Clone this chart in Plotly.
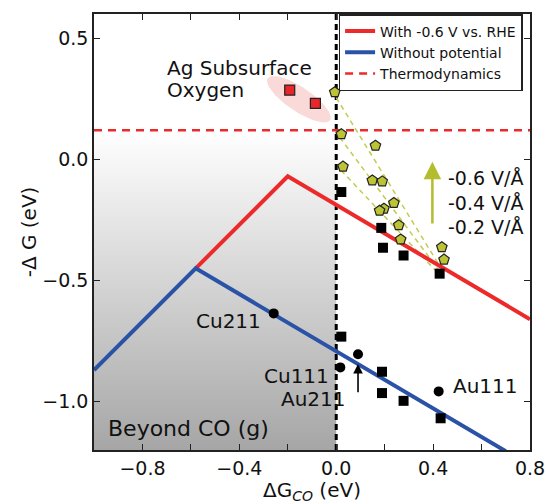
import numpy as np
import plotly.graph_objects as go

FONT = "DejaVu Sans"

# ---- axis ranges / ticks ----
X_RANGE = [-1.0, 0.8]
Y_RANGE = [-1.2, 0.6]
x_tickvals = [-1.0, -0.8, -0.6, -0.4, -0.2, 0.0, 0.2, 0.4, 0.6, 0.8]
x_ticktext = ["", "−0.8", "", "−0.4", "", "0.0", "", "0.4", "", "0.8"]
y_tickvals = [-1.0, -0.5, 0.0, 0.5]
y_ticktext = ["−1.0", "−0.5", "0.0", "0.5"]

# ---- volcano lines ----
with_pot_x = [-0.58, -0.20, 0.80]
with_pot_y = [-0.45, -0.07, -0.66]
without_pot_x = [-1.00, -0.58, 0.70]
without_pot_y = [-0.87, -0.45, -1.205]
thermo_y = 0.12

# ---- data points ----
sq_x = [0.021, 0.189, 0.189, 0.278, 0.431, 0.021, 0.186, 0.193, 0.278, 0.427]
sq_y = [-0.732, -0.877, -0.965, -0.997, -1.069, -0.135, -0.283, -0.365, -0.397, -0.472]
circ_x = [-0.258, 0.090, 0.017, 0.423]
circ_y = [-0.636, -0.805, -0.859, -0.958]
pent_x = [-0.006, 0.021, 0.028, 0.162, 0.149, 0.190, 0.238, 0.197, 0.179, 0.258, 0.266, 0.436, 0.445]
pent_y = [0.277, 0.104, -0.030, 0.056, -0.087, -0.091, -0.180, -0.204, -0.212, -0.272, -0.331, -0.363, -0.414]
ag_x = [-0.192, -0.086]
ag_y = [0.286, 0.231]

# field dashed lines (start, end)
field_x0 = [0.000, 0.015, 0.020]
field_y0 = [0.255, 0.090, -0.045]
field_x1 = [0.430, 0.425, 0.420]
field_y1 = [-0.445, -0.460, -0.470]

# ellipse around Ag subsurface oxygen
ell_cx, ell_cy, ell_a, ell_b, ell_ang = -0.154, 0.248, 0.155, 0.05, -34.0

RED = "#ec2a2a"
BLUE = "#2a52a6"
OLIVE = "#b3bd2e"
PENT = "#bcc436"

fig = go.Figure()

# gradient "Beyond CO" region
fig.add_trace(go.Scatter(
    x=[X_RANGE[0], 0.0, 0.0, X_RANGE[0], X_RANGE[0]],
    y=[Y_RANGE[0], Y_RANGE[0], thermo_y, thermo_y, Y_RANGE[0]],
    mode="lines", line=dict(width=0), fill="toself",
    fillgradient=dict(type="vertical", colorscale=[[0, "#a6a6a6"], [1, "#ffffff"]],
                      start=Y_RANGE[0], stop=thermo_y),
    showlegend=False, hoverinfo="skip"))

# ellipse
t = np.linspace(0, 2 * np.pi, 100)
th = np.deg2rad(ell_ang)
ex = ell_cx + ell_a * np.cos(t) * np.cos(th) - ell_b * np.sin(t) * np.sin(th)
ey = ell_cy + ell_a * np.cos(t) * np.sin(th) + ell_b * np.sin(t) * np.cos(th)
fig.add_trace(go.Scatter(x=ex, y=ey, mode="lines", line=dict(width=0), fill="toself",
                         fillcolor="rgba(238,130,130,0.3)", showlegend=False, hoverinfo="skip"))

# vertical dashed line at x=0
fig.add_trace(go.Scatter(x=[0, 0], y=Y_RANGE, mode="lines",
                         line=dict(color="black", width=3, dash="6px,4px"),
                         showlegend=False, hoverinfo="skip"))

# field dashed lines
for x0, y0, x1, y1 in zip(field_x0, field_y0, field_x1, field_y1):
    fig.add_trace(go.Scatter(x=[x0, x1], y=[y0, y1], mode="lines",
                             line=dict(color="#c4cc50", width=1.5, dash="5px,4px"),
                             showlegend=False, hoverinfo="skip"))

# volcano lines
fig.add_trace(go.Scatter(x=with_pot_x, y=with_pot_y, mode="lines",
                         line=dict(color=RED, width=4), name="With -0.6 V vs. RHE"))
fig.add_trace(go.Scatter(x=without_pot_x, y=without_pot_y, mode="lines",
                         line=dict(color=BLUE, width=4), name="Without potential"))
fig.add_trace(go.Scatter(x=X_RANGE, y=[thermo_y, thermo_y], mode="lines",
                         line=dict(color=RED, width=2.5, dash="8px,6px"), name="Thermodynamics"))

# markers
fig.add_trace(go.Scatter(x=sq_x, y=sq_y, mode="markers", showlegend=False,
                         marker=dict(symbol="square", size=10, color="black")))
fig.add_trace(go.Scatter(x=circ_x, y=circ_y, mode="markers", showlegend=False,
                         marker=dict(symbol="circle", size=10, color="black")))
fig.add_trace(go.Scatter(x=pent_x, y=pent_y, mode="markers", showlegend=False,
                         marker=dict(symbol="pentagon", size=11, color=PENT,
                                     line=dict(color="#222222", width=1.2))))
fig.add_trace(go.Scatter(x=ag_x, y=ag_y, mode="markers", showlegend=False,
                         marker=dict(symbol="square", size=10, color="#e8262a",
                                     line=dict(color="#222222", width=1.2))))

anns = []
def txt(x, y, s, size=20, xanchor="left"):
    anns.append(dict(x=x, y=y, xref="x", yref="y", text=s, showarrow=False,
                     xanchor=xanchor, yanchor="middle",
                     font=dict(family=FONT, size=size, color="#111111")))

txt(-0.303, -0.669, "Cu211", xanchor="right")
txt(-0.020, -0.894, "Cu111", xanchor="right")
txt(0.047, -0.990, "Au211", xanchor="right")
txt(0.475, -0.936, "Au111")
txt(-0.95, -1.11, "Beyond CO (g)", size=22)
txt(-0.705, 0.376, "Ag Subsurface", size=20)
txt(-0.705, 0.286, "Oxygen", size=20)
txt(0.452, -0.078, "-0.6 V/Å", size=19)
txt(0.452, -0.181, "-0.4 V/Å", size=19)
txt(0.452, -0.281, "-0.2 V/Å", size=19)

# arrows
anns.append(dict(x=0.397, y=-0.01, ax=0.397, ay=-0.30, xref="x", yref="y",
                 axref="x", ayref="y", showarrow=True, arrowhead=2, arrowsize=1.4,
                 arrowwidth=2.5, arrowcolor=OLIVE, text=" "))
anns.append(dict(x=0.090, y=-0.845, ax=0.090, ay=-0.997, xref="x", yref="y",
                 axref="x", ayref="y", showarrow=True, arrowhead=2, arrowsize=1.2,
                 arrowwidth=1.6, arrowcolor="black", text=" "))

axis_common = dict(showline=True, linecolor="#222222", linewidth=1.5, mirror="ticks",
                   ticks="inside", ticklen=6, tickwidth=1, tickcolor="#222222",
                   showgrid=False, zeroline=False, automargin=False,
                   tickfont=dict(family=FONT, size=19, color="#111111"))

fig.update_layout(
    width=546, height=504,
    margin=dict(l=94, r=16, t=14, b=54),
    paper_bgcolor="white", plot_bgcolor="white",
    font=dict(family=FONT, color="#111111"),
    xaxis=dict(range=X_RANGE, tickvals=x_tickvals, ticktext=x_ticktext,
               title=dict(text="ΔG<sub><i>CO</i></sub> (eV)", standoff=12,
                          font=dict(family=FONT, size=20)), **axis_common),
    yaxis=dict(range=Y_RANGE, tickvals=y_tickvals, ticktext=y_ticktext,
               title=dict(text="-Δ G (eV)", standoff=0,
                          font=dict(family=FONT, size=20)), **axis_common),
    legend=dict(x=0.983, y=1.0, xanchor="right", yanchor="top",
                bgcolor="white", bordercolor="#222222", borderwidth=1.5,
                font=dict(family=FONT, size=14, color="#111111"),
                tracegroupgap=0, itemwidth=30),
    annotations=anns,
    showlegend=True,
)

fig.write_html("out.html")
